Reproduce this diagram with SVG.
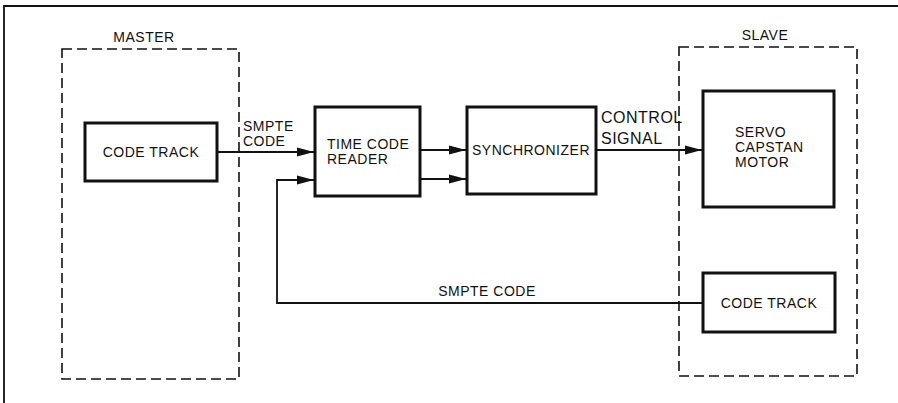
<svg xmlns="http://www.w3.org/2000/svg" width="898" height="403" viewBox="0 0 898 403">
<style>
text{font-family:"Liberation Sans",Arial,sans-serif;font-size:14px;fill:#111;letter-spacing:0.5px}
.big{font-size:16px}
.box{fill:#fff;stroke:#111;stroke-width:3}
.dash{fill:none;stroke:#111;stroke-width:1.6;stroke-dasharray:10 5}
.ln{fill:none;stroke:#111;stroke-width:1.8}
</style>
<defs>
<marker id="ah" markerWidth="18" markerHeight="10" refX="17" refY="5" orient="auto" markerUnits="userSpaceOnUse">
<path d="M0,0.5 L17,5 L0,9.5 Z" fill="#111"/>
</marker>
</defs>
<rect width="898" height="403" fill="#fff"/>
<path d="M4,403 V6 H898" class="ln" stroke-width="1.5"/>
<g id="master">
<rect x="62" y="49" width="177" height="330" class="dash"/>
<text x="144" y="42" text-anchor="middle">MASTER</text>
</g>
<g id="slave">
<rect x="679" y="47" width="178" height="329" class="dash"/>
<text x="765" y="40" text-anchor="middle">SLAVE</text>
</g>
<g id="master-code-track">
<rect x="85" y="123" width="132" height="58" class="box"/>
<text x="151" y="157" text-anchor="middle">CODE TRACK</text>
</g>
<g id="time-code-reader">
<rect x="315" y="107" width="105" height="89" class="box"/>
<text x="327" y="149">TIME CODE</text>
<text x="327" y="164">READER</text>
</g>
<g id="synchronizer">
<rect x="467" y="107" width="129" height="87" class="box"/>
<text x="531" y="155" text-anchor="middle">SYNCHRONIZER</text>
</g>
<g id="servo-capstan-motor">
<rect x="703" y="91" width="131" height="116" class="box"/>
<text x="735" y="137">SERVO</text>
<text x="735" y="152">CAPSTAN</text>
<text x="735" y="167">MOTOR</text>
</g>
<g id="slave-code-track">
<rect x="703" y="273" width="132" height="59" class="box"/>
<text x="769" y="308" text-anchor="middle">CODE TRACK</text>
</g>
<g id="connectors">
<path d="M217,152 H314" class="ln" marker-end="url(#ah)"/>
<path d="M703,303 H277 V180 H314" class="ln" marker-end="url(#ah)"/>
<path d="M420,150 H466" class="ln" marker-end="url(#ah)"/>
<path d="M420,179 H466" class="ln" marker-end="url(#ah)"/>
<path d="M596,150 H702" class="ln" marker-end="url(#ah)"/>
<text x="243" y="131">SMPTE</text>
<text x="243" y="146">CODE</text>
<text x="601" y="123" class="big">CONTROL</text>
<text x="601" y="144" class="big">SIGNAL</text>
<text x="487" y="296" text-anchor="middle">SMPTE CODE</text>
</g>
</svg>
